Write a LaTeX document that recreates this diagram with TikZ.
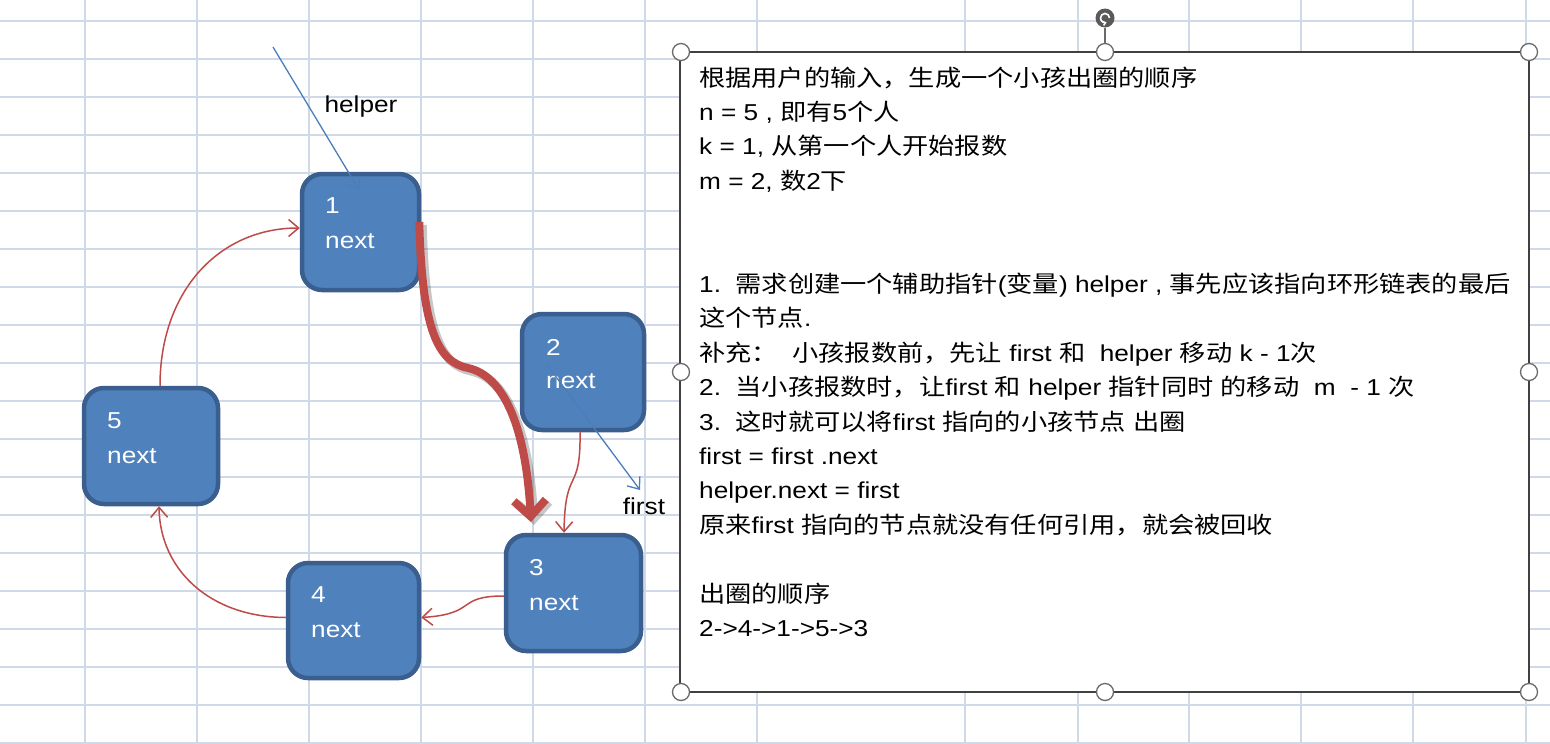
\documentclass[tikz,border=0pt]{standalone}
\usepackage{fontspec}
\setmainfont{Liberation Sans}[FakeStretch=1.14]
\newfontfamily\cjk{Noto Sans CJK SC}[FakeStretch=1.14]
\newcommand\zh[1]{{\cjk #1}}
\usetikzlibrary{arrows.meta,calc}
\definecolor{gridc}{HTML}{D0D9E8}
\definecolor{boxfill}{HTML}{4F81BD}
\definecolor{boxline}{HTML}{3A5F8E}
\definecolor{redc}{HTML}{BE4B48}
\definecolor{bluec}{HTML}{4A7EBB}
\definecolor{framec}{HTML}{404040}
\definecolor{handlec}{HTML}{6A6A6A}
\begin{document}
\begin{tikzpicture}[x=1pt,y=-1pt,
  nodebox/.style={draw=boxline, fill=boxfill, line width=4.5pt, rounded corners=20pt, inner sep=0pt},
  ntext/.style={anchor=base west, inner sep=0pt, text=white, font=\fontsize{23}{28}\selectfont},
  lbl/.style={inner sep=0pt, font=\fontsize{23}{28}\selectfont},
  tline/.style={anchor=base west, inner sep=0pt, font=\fontsize{23}{28}\selectfont},
  redarrow/.style={draw=redc, line width=1.5pt, -{Straight Barb[length=10pt,width=17pt]}},
  bluearrow/.style={draw=bluec, line width=1.3pt, -{Straight Barb[length=10pt,width=16pt]}},
  handle/.style={circle, draw=handlec, fill=white, line width=1.3pt, minimum size=17pt, inner sep=0pt},
  gridline/.style={draw=gridc, line width=2pt}]
\useasboundingbox (0,0) rectangle (1550,744);
\fill[white] (0,0) rectangle (1550,744);
% spreadsheet grid
\foreach \y in {21,59,...,743} \draw[gridline] (0,\y) -- (1550,\y);
\foreach \x in {85,197,309,421,533,645,757,965,1078,1189,1301,1413,1526} \draw[gridline] (\x,0) -- (\x,744);

% list nodes
\node[nodebox, minimum width=117pt, minimum height=116pt] (n1) at (360.5,232) {};
\node[nodebox, minimum width=122pt, minimum height=116pt] (n2) at (583,372) {};
\node[nodebox, minimum width=135pt, minimum height=116pt] (n3) at (573.5,593) {};
\node[nodebox, minimum width=131pt, minimum height=115pt] (n4) at (353.5,620.5) {};
\node[nodebox, minimum width=134pt, minimum height=116pt] (n5) at (151,446) {};

\node[ntext] (n1a) at (325,213) {1};
\node[ntext] (n1b) at (325,248) {next};
\node[ntext] (n2a) at (546,355) {2};
\node[ntext] (n2b) at (546,388) {next};
\node[ntext] (n3a) at (529,575) {3};
\node[ntext] (n3b) at (529,610) {next};
\node[ntext] (n4a) at (311,602) {4};
\node[ntext] (n4b) at (311,637) {next};
\node[ntext] (n5a) at (107,428) {5};
\node[ntext] (n5b) at (107,463) {next};

% labels
\node[lbl] (lhelper) at (361,107) {helper};
\node[lbl] (lfirst) at (644,506) {first};

% red thin connectors
\draw[redarrow] ([xshift=9pt]n5.north) .. controls (160,290) and (220,228) .. ([yshift=4pt]n1.west);
\draw[redarrow] ([yshift=3pt]n4.west) .. controls (210,617) and (160,570) .. ([xshift=8pt]n5.south);
\draw[redarrow] ([yshift=-3pt]n3.west) .. controls (455,596) and (478,614) .. ([yshift=3pt]n4.east);
\draw[redarrow] ([xshift=-3pt]n2.south) .. controls (581,495) and (565,465) .. ([xshift=-9.5pt]n3.north);

% thick red arrow with shadow
\coordinate (bige) at (531,522);
\draw[black, opacity=0.22, line width=9pt, transform canvas={xshift=3pt,yshift=-3pt},
      -{Straight Barb[length=16pt,width=32pt]}]
  ([xshift=-2pt,yshift=10pt]n1.east) .. controls (422,330) and (438,362) .. (468,368)
  .. controls (505,376) and (526,430) .. (bige);
\draw[draw=redc, line width=8pt, -{Straight Barb[length=16pt,width=32pt]}]
  ([xshift=-2pt,yshift=10pt]n1.east) .. controls (422,330) and (438,362) .. (468,368)
  .. controls (505,376) and (526,430) .. (bige);

% blue pointer arrows
\coordinate (hs) at (273,47);
\draw[bluearrow] (hs) -- ([xshift=-1.5pt,yshift=-18pt]n1.north);
\coordinate (fs) at (548,366);
\coordinate (fe) at (640,490);
\draw[bluearrow] (fs) -- (fe);

% text box
\node[draw=framec, fill=white, line width=1.5pt, minimum width=849pt, minimum height=640pt, inner sep=0pt] (tb) at (1104.5,372) {};
\node[handle] (h1) at (681,52) {};
\node[handle] (h2) at (1105,52) {};
\node[handle] (h3) at (1529,52) {};
\node[handle] (h4) at (681,372) {};
\node[handle] (h5) at (1529,372) {};
\node[handle] (h6) at (681,692) {};
\node[handle] (h7) at (1105,692) {};
\node[handle] (h8) at (1529,692) {};
\node[circle, fill=handlec!85!black, minimum size=19pt, inner sep=0pt] (rot) at (1105,18) {};
\draw[handlec, line width=1.2pt] (rot) -- (h2);
\draw[white, line width=1.6pt, -{Straight Barb[length=2.5pt,width=4pt]}] ([xshift=4.5pt]rot.center) arc[start angle=0, end angle=290, radius=4.5pt];

\node[tline] (t1) at (699,86) {\zh{根据用户的输入，生成一个小孩出圈的顺序}};
\node[tline] (t2) at (699,120.4) {n = 5 , \zh{即有}5\zh{个人}};
\node[tline] (t3) at (699,154.8) {k = 1, \zh{从第一个人开始报数}};
\node[tline] (t4) at (699,189.2) {m = 2, \zh{数}2\zh{下}};
\node[tline] (t7) at (699,292.4) {1.\ \ \zh{需求创建一个辅助指针}(\zh{变量}) helper , \zh{事先应该指向环形链表的最后}};
\node[tline] (t8) at (699,326.8) {\zh{这个节点}.};
\node[tline] (t9) at (699,361.2) {\zh{补充：}\ \ \zh{小孩报数前，先让} first \zh{和}\ \ helper \zh{移动} k - 1\zh{次}};
\node[tline] (t10) at (699,395.6) {2.\ \ \zh{当小孩报数时，让}first \zh{和} helper \zh{指针同时} \zh{的移动}\ \ m\ \ - 1 \zh{次}};
\node[tline] (t11) at (699,430) {3.\ \ \zh{这时就可以将}first \zh{指向的小孩节点} \zh{出圈}};
\node[tline] (t12) at (699,464.4) {first = first .next};
\node[tline] (t13) at (699,498.8) {helper.next = first};
\node[tline] (t14) at (699,533.2) {\zh{原来}first \zh{指向的节点就没有任何引用，就会被回收}};
\node[tline] (t16) at (699,602) {\zh{出圈的顺序}};
\node[tline] (t17) at (699,636.4) {2->4->1->5->3};
\end{tikzpicture}
\end{document}
